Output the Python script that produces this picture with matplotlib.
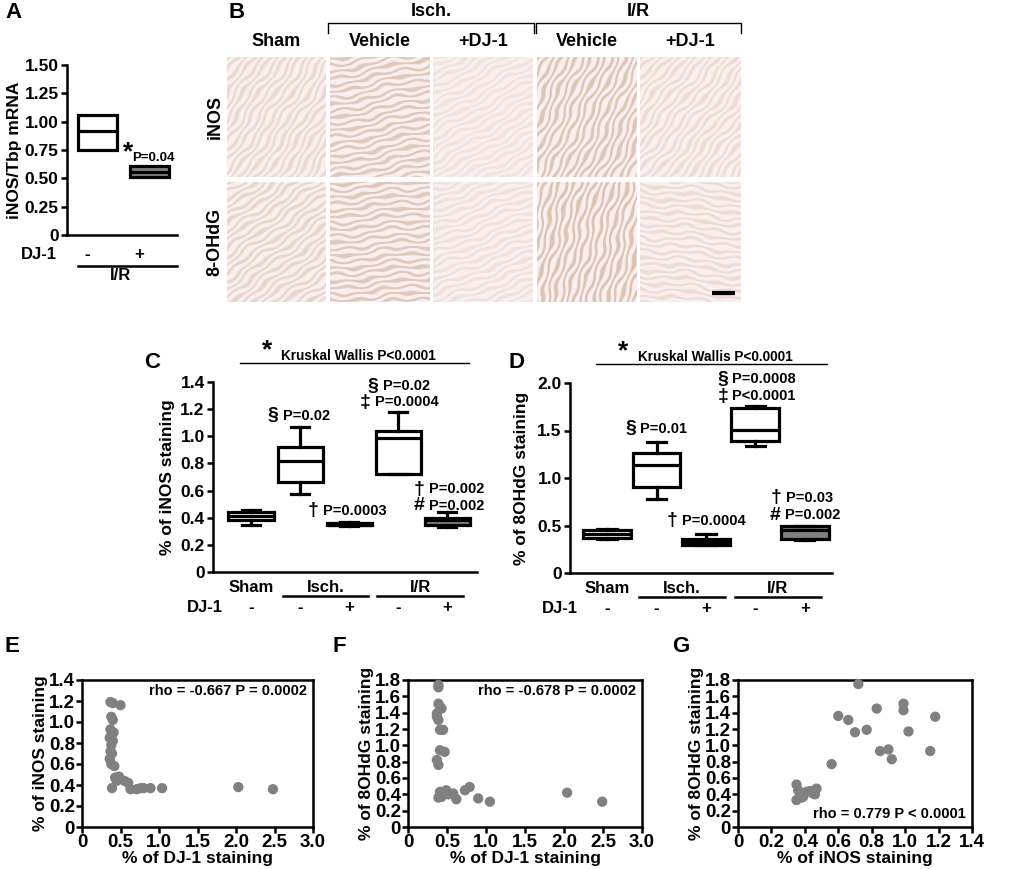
import numpy as np
import matplotlib
matplotlib.use('Agg')
import matplotlib.pyplot as plt
from matplotlib import transforms

W, H = 1010, 869

# ---------------- data ----------------
# A: iNOS/Tbp mRNA in I/R, vehicle vs +DJ-1
a_dj1 = ['-', '+']
a_q1 = [0.75, 0.51]
a_med = [0.92, 0.56]
a_q3 = [1.055, 0.61]
a_fill = ['white', '#808080']

# C/D groups
grp_dj1 = ['-', '-', '+', '-', '+']
box_fill = ['white', 'white', 'white', 'white', '#808080']

# C: % of iNOS staining
c_lo = [0.35, 0.575, 0.34, 0.72, 0.335]
c_q1 = [0.385, 0.66, 0.345, 0.72, 0.35]
c_med = [0.415, 0.82, 0.35, 0.99, 0.38]
c_q3 = [0.445, 0.92, 0.36, 1.04, 0.40]
c_hi = [0.46, 1.07, 0.37, 1.18, 0.44]

# D: % of 8OHdG staining
d_lo = [0.357, 0.78, 0.29, 1.34, 0.35]
d_q1 = [0.37, 0.91, 0.29, 1.39, 0.36]
d_med = [0.41, 1.14, 0.325, 1.51, 0.455]
d_q3 = [0.448, 1.26, 0.357, 1.74, 0.50]
d_hi = [0.46, 1.38, 0.41, 1.76, 0.50]

# E: DJ-1 vs iNOS
e_x = [0.37, 0.40, 0.50, 0.38, 0.40, 0.37, 0.41, 0.38, 0.36, 0.40, 0.38, 0.37,
       0.39, 0.36, 0.38, 0.42, 0.43, 0.48, 0.45, 0.55, 0.60, 0.39, 0.63, 0.71,
       0.76, 0.80, 0.89, 1.04, 2.03, 2.48]
e_y = [1.19, 1.18, 1.16, 1.05, 1.02, 0.93, 0.90, 0.87, 0.85, 0.82, 0.78, 0.72,
       0.70, 0.65, 0.60, 0.58, 0.47, 0.48, 0.44, 0.44, 0.42, 0.37, 0.36, 0.36,
       0.37, 0.37, 0.37, 0.37, 0.38, 0.36]

# F: DJ-1 vs 8OHdG
f_x = [0.39, 0.39, 0.39, 0.41, 0.43, 0.37, 0.37, 0.39, 0.41, 0.45, 0.41, 0.47,
       0.37, 0.39, 0.41, 0.49, 0.47, 0.58, 0.43, 0.62, 0.73, 0.79, 0.90, 1.05,
       2.04, 2.49, 0.39, 0.52]
f_y = [1.74, 1.71, 1.51, 1.47, 1.45, 1.39, 1.35, 1.31, 1.19, 1.19, 0.94, 0.92,
       0.82, 0.76, 0.43, 0.45, 0.41, 0.41, 0.37, 0.34, 0.45, 0.49, 0.35, 0.31,
       0.42, 0.31, 0.36, 0.40]

# G: iNOS vs 8OHdG
g_x = [0.72, 0.99, 0.99, 0.83, 0.60, 0.66, 0.70, 0.77, 1.18, 1.02, 0.85, 0.90,
       0.92, 1.15, 0.56, 0.35, 0.35, 0.37, 0.41, 0.45, 0.47, 0.39, 0.36, 0.43,
       0.38, 0.46]
g_y = [1.75, 1.51, 1.43, 1.45, 1.36, 1.31, 1.16, 1.19, 1.35, 1.17, 0.93, 0.95,
       0.83, 0.93, 0.77, 0.52, 0.33, 0.41, 0.43, 0.41, 0.47, 0.37, 0.45, 0.44,
       0.36, 0.40]

# B: micrograph grid (stain strength and fibre direction per tile)
b_cols = ['Sham', 'Vehicle', '+DJ-1', 'Vehicle', '+DJ-1']
b_rows = ['iNOS', '8-OHdG']
b_stain = [[0.35, 0.60, 0.18, 0.65, 0.30],
           [0.40, 0.60, 0.22, 0.70, 0.30]]
b_angle = [[35, 78, 62, 25, 40],
           [55, 84, 70, 15, 95]]

# ---------------- style ----------------
plt.rcParams['font.family'] = ['Liberation Sans', 'DejaVu Sans']
plt.rcParams['font.weight'] = 'bold'
plt.rcParams['axes.labelweight'] = 'bold'
plt.rcParams['axes.linewidth'] = 1.8
plt.rcParams['xtick.major.width'] = 1.8
plt.rcParams['ytick.major.width'] = 1.8
plt.rcParams['xtick.major.size'] = 4
plt.rcParams['ytick.major.size'] = 4
plt.rcParams['xtick.direction'] = 'out'
plt.rcParams['ytick.direction'] = 'out'

fig = plt.figure(figsize=(W / 100, H / 100), dpi=100)

ov = fig.add_axes([0, 0, 1, 1])
ov.set_xlim(0, W)
ov.set_ylim(H, 0)
ov.axis('off')


def px_axes(l, t, r, b):
    return fig.add_axes([l / W, 1 - b / H, (r - l) / W, (b - t) / H])


def bold_ticks(ax):
    for lab in ax.get_xticklabels() + ax.get_yticklabels():
        lab.set_fontweight('bold')


def boxes(ax, lo, q1, med, q3, hi, pos, width, fills, caps=True):
    stats = []
    for i in range(len(med)):
        stats.append(dict(whislo=lo[i], q1=q1[i], med=med[i], q3=q3[i], whishi=hi[i]))
    lw = 2.3
    res = ax.bxp(stats, positions=pos, widths=width, patch_artist=True,
                 showfliers=False, showcaps=caps, capwidths=width * 0.4,
                 boxprops=dict(edgecolor='black', linewidth=lw),
                 medianprops=dict(color='black', linewidth=lw),
                 whiskerprops=dict(color='black', linewidth=lw),
                 capprops=dict(color='black', linewidth=lw))
    for patch, fc in zip(res['boxes'], fills):
        patch.set_facecolor(fc)


def annot(ax, x, y, sym, txt):
    ax.annotate(sym, (x, y), xytext=(-1, 0), textcoords='offset points',
                ha='right', va='center', fontsize=14, annotation_clip=False)
    ax.annotate(txt, (x, y), xytext=(2, 0), textcoords='offset points',
                ha='left', va='center', fontsize=10.5, annotation_clip=False)


def open_axes(ax):
    ax.spines['top'].set_visible(False)
    ax.spines['right'].set_visible(False)
    ax.tick_params(axis='x', length=0, labelbottom=False)
    ax.tick_params(axis='y', labelsize=12.5, pad=2)
    bold_ticks(ax)


# ---------------- panel letters ----------------
for letter, x, y in [('A', 5, 12), ('B', 229, 12), ('C', 144, 363), ('D', 509, 362),
                     ('E', 5, 647), ('F', 333, 647), ('G', 672, 647)]:
    ov.text(x, y, letter, fontsize=16, ha='left', va='center')

# ---------------- A ----------------
axA = px_axes(67, 65, 177, 235)
pos_a = [1, 2]
boxes(axA, a_q1, a_q1, a_med, a_q3, a_q3, pos_a, 0.75, a_fill, caps=False)
axA.set_xlim(0.41, 2.53)
axA.set_ylim(0, 1.5)
axA.set_yticks([0, 0.25, 0.5, 0.75, 1.0, 1.25, 1.5])
axA.set_yticklabels(['0', '0.25', '0.50', '0.75', '1.00', '1.25', '1.50'])
open_axes(axA)
axA.set_ylabel('iNOS/Tbp mRNA', fontsize=12.5, labelpad=2)
axA.text(1.58, 0.73, '*', fontsize=19, ha='center', va='center')
axA.text(1.67, 0.68, 'P=0.04', fontsize=9.5, ha='left', va='center')
trA = transforms.blended_transform_factory(axA.transData, axA.transAxes)
axA.text(-0.14, -0.115, 'DJ-1', transform=trA, ha='center', va='center', fontsize=12)
for p, s in zip([0.8, 1.8], a_dj1):
    axA.text(p, -0.115, s, transform=trA, ha='center', va='center', fontsize=12)
axA.plot([0.62, 2.53], [-0.18, -0.18], transform=trA, color='black', lw=1.8, clip_on=False)
axA.text(1.45, -0.24, 'I/R', transform=trA, ha='center', va='center', fontsize=12)

# ---------------- B ----------------
col_x = [(227, 326), (330, 430), (433, 533), (537, 637), (640, 741)]
row_y = [(57, 177), (182, 302)]
base = np.array([0.975, 0.94, 0.935])
fibre = np.array([0.82, 0.69, 0.60])
for r in range(2):
    for c in range(5):
        x0, x1 = col_x[c]
        y0, y1 = row_y[r]
        yy, xx = np.mgrid[0:120, 0:100]
        a = np.deg2rad(b_angle[r][c])
        u = xx * np.cos(a) + yy * np.sin(a)
        v = -xx * np.sin(a) + yy * np.cos(a)
        pat = np.sin(2 * np.pi * u / 6.5 + 1.6 * np.sin(2 * np.pi * v / 71.0)
                     + 1.1 * np.sin(2 * np.pi * (0.7 * u + v) / 29.0)
                     + 0.8 * np.sin(2 * np.pi * (u - 0.4 * v) / 17.0))
        pat = np.clip(pat + 0.3, 0, 1)
        k = (b_stain[r][c] * pat)[..., None]
        img = base * (1 - k) + fibre * k
        ov.imshow(img, extent=(x0, x1, y1, y0), aspect='auto', interpolation='bilinear',
                  zorder=1)
ov.set_xlim(0, W)
ov.set_ylim(H, 0)

narrow = ['Liberation Sans Narrow', 'Liberation Sans', 'DejaVu Sans']
for name, (x0, x1) in zip(b_cols, col_x):
    ov.text((x0 + x1) / 2, 41, name, ha='center', va='center', fontsize=13, family=narrow)
for name, (y0, y1) in zip(b_rows, row_y):
    ov.text(215, (y0 + y1) / 2, name, ha='center', va='center', fontsize=13,
            rotation=90, family=narrow)
for name, x0, x1 in [('Isch.', 328, 534), ('I/R', 536, 741)]:
    ov.plot([x0, x0, x1, x1], [33, 23, 23, 33], color='black', lw=1.0)
    ov.text((x0 + x1) / 2, 11, name, ha='center', va='center', fontsize=13, family=narrow)
ov.plot([712, 735], [293, 293], color='black', lw=3, solid_capstyle='butt', zorder=3)

# ---------------- C / D ----------------
pos5 = [1, 2, 3, 4, 5]
spans = [(1.65, 3.38, 'Isch.'), (3.58, 5.32, 'I/R')]


def group_labels(ax):
    tr = transforms.blended_transform_factory(ax.transData, ax.transAxes)
    ax.text(1, -0.08, 'Sham', transform=tr, ha='center', va='center', fontsize=12)
    for x0, x1, name in spans:
        ax.plot([x0, x1], [-0.127, -0.127], transform=tr, color='black', lw=1.8, clip_on=False)
        ax.text((x0 + x1) / 2, -0.08, name, transform=tr, ha='center', va='center', fontsize=12)
    ax.text(0.05, -0.185, 'DJ-1', transform=tr, ha='center', va='center', fontsize=12)
    for p, s in zip(pos5, grp_dj1):
        ax.text(p, -0.185, s, transform=tr, ha='center', va='center', fontsize=12)
    ax.plot([0.77, 5.45], [1.10, 1.10], transform=tr, color='black', lw=1.0, clip_on=False)
    ax.text(1.33, 1.165, '*', transform=tr, ha='center', va='center', fontsize=19)
    ax.text(3.2, 1.135, 'Kruskal Wallis P<0.0001', transform=tr, ha='center',
            va='center', fontsize=9.8)


axC = px_axes(213, 382, 477, 572)
boxes(axC, c_lo, c_q1, c_med, c_q3, c_hi, pos5, 0.92, box_fill)
axC.set_xlim(0.224, 5.61)
axC.set_ylim(0, 1.4)
axC.set_yticks([0, 0.2, 0.4, 0.6, 0.8, 1.0, 1.2, 1.4])
axC.set_yticklabels(['0', '0.2', '0.4', '0.6', '0.8', '1.0', '1.2', '1.4'])
open_axes(axC)
axC.set_ylabel('% of iNOS staining', fontsize=12.5, labelpad=4)
group_labels(axC)
annot(axC, 1.59, 1.15, '§', 'P=0.02')
annot(axC, 3.63, 1.37, '§', 'P=0.02')
annot(axC, 3.47, 1.25, '‡', 'P=0.0004')
annot(axC, 2.41, 0.45, '†', 'P=0.0003')
annot(axC, 4.57, 0.61, '†', 'P=0.002')
annot(axC, 4.57, 0.49, '#', 'P=0.002')

axD = px_axes(570, 383, 832, 573)
boxes(axD, d_lo, d_q1, d_med, d_q3, d_hi, pos5, 0.97, box_fill)
axD.set_xlim(0.25, 5.55)
axD.set_ylim(0, 2.0)
axD.set_yticks([0, 0.5, 1.0, 1.5, 2.0])
axD.set_yticklabels(['0', '0.5', '1.0', '1.5', '2.0'])
open_axes(axD)
axD.set_ylabel('% of 8OHdG staining', fontsize=12.5, labelpad=6)
group_labels(axD)
annot(axD, 1.61, 1.52, '§', 'P=0.01')
annot(axD, 3.48, 2.04, '§', 'P=0.0008')
annot(axD, 3.48, 1.86, '‡', 'P<0.0001')
annot(axD, 2.45, 0.55, '†', 'P=0.0004')
annot(axD, 4.56, 0.79, '†', 'P=0.03')
annot(axD, 4.54, 0.61, '#', 'P=0.002')


# ---------------- E / F / G ----------------
def scatter_panel(l, r, xs, ys, xmax, xstep, ymax, ystep, xlabel, ylabel, note, note_top):
    ax = px_axes(l, 680, r, 827)
    ax.scatter(xs, ys, s=55, color='#808080', edgecolors='none', zorder=3, clip_on=False)
    ax.set_xlim(0, xmax)
    ax.set_ylim(0, ymax)
    xt = np.round(np.arange(0, xmax + 1e-9, xstep), 2)
    yt = np.round(np.arange(0, ymax + 1e-9, ystep), 2)
    ax.set_xticks(xt)
    ax.set_xticklabels(['0'] + ['%.1f' % v for v in xt[1:]])
    ax.set_yticks(yt)
    ax.set_yticklabels(['0'] + ['%.1f' % v for v in yt[1:]])
    ax.tick_params(labelsize=13.5, pad=1)
    bold_ticks(ax)
    ax.set_xlabel(xlabel, fontsize=12.5, labelpad=0)
    ax.set_ylabel(ylabel, fontsize=12.5, labelpad=1)
    if note_top:
        ax.text(0.975, 0.925, note, transform=ax.transAxes, ha='right', va='center', fontsize=10.5)
    else:
        ax.text(0.975, 0.09, note, transform=ax.transAxes, ha='right', va='center', fontsize=10.5)
    return ax


scatter_panel(82, 313, e_x, e_y, 3.0, 0.5, 1.4, 0.2, '% of DJ-1 staining',
              '% of iNOS staining', 'rho = -0.667 P = 0.0002', True)
scatter_panel(408, 642, f_x, f_y, 3.0, 0.5, 1.8, 0.2, '% of DJ-1 staining',
              '% of 8OHdG staining', 'rho = -0.678 P = 0.0002', True)
scatter_panel(738, 972, g_x, g_y, 1.4, 0.2, 1.8, 0.2, '% of iNOS staining',
              '% of 8OHdG staining', 'rho = 0.779 P < 0.0001', False)

fig.savefig('out.png', dpi=100)
